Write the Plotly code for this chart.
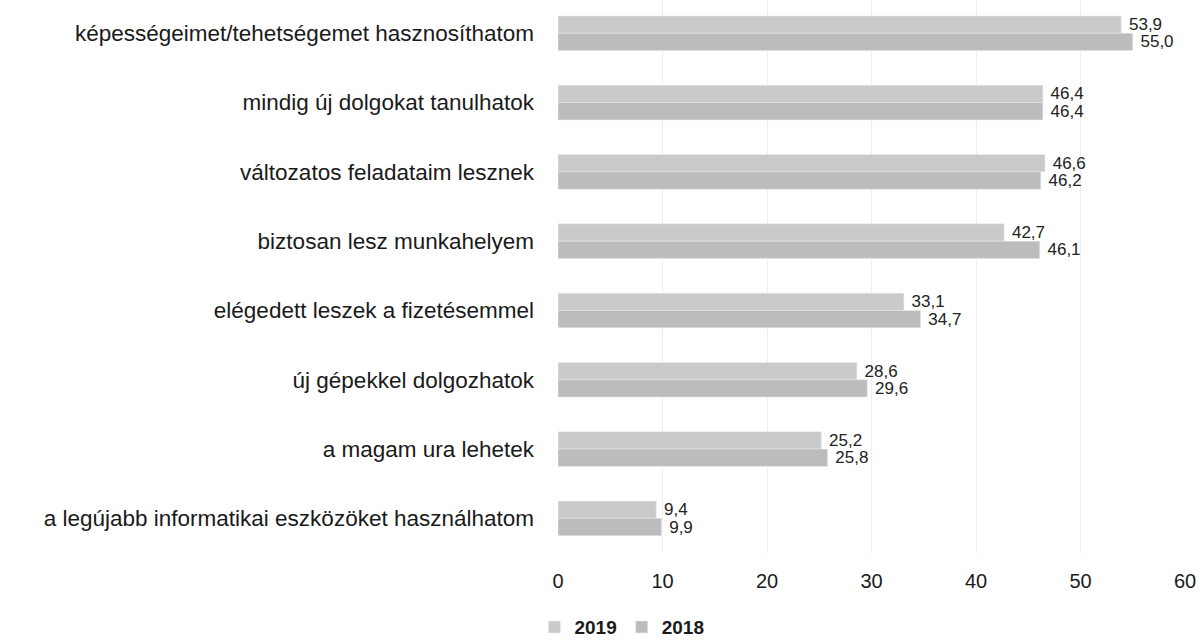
import plotly.graph_objects as go

categories = [
    "képességeimet/tehetségemet hasznosíthatom",
    "mindig új dolgokat tanulhatok",
    "változatos feladataim lesznek",
    "biztosan lesz munkahelyem",
    "elégedett leszek a fizetésemmel",
    "új gépekkel dolgozhatok",
    "a magam ura lehetek",
    "a legújabb informatikai eszközöket használhatom",
]
values_2019 = [53.9, 46.4, 46.6, 42.7, 33.1, 28.6, 25.2, 9.4]
values_2018 = [55.0, 46.4, 46.2, 46.1, 34.7, 29.6, 25.8, 9.9]
x_ticks = [0, 10, 20, 30, 40, 50, 60]

FONT = "Liberation Sans, Arial, sans-serif"


def bar_trace(name, values, color):
    return go.Bar(
        name="<b>%s</b>" % name,
        y=categories,
        x=values,
        orientation="h",
        marker=dict(color=color),
        text=values,
        texttemplate=" %{x:.1f}",
        textposition="outside",
        textfont=dict(size=17, color="#222222", family=FONT),
        constraintext="none",
        cliponaxis=False,
    )


fig = go.Figure()
fig.add_trace(bar_trace("2019", values_2019, "#cacaca"))
fig.add_trace(bar_trace("2018", values_2018, "#bcbcbc"))

fig.update_layout(
    width=1200,
    height=641,
    barmode="group",
    bargap=0.5,
    bargroupgap=0,
    separators=", ",
    plot_bgcolor="white",
    paper_bgcolor="white",
    margin=dict(l=558, r=15, t=0, b=88, autoexpand=False),
    font=dict(family=FONT, size=22, color="#1a1a1a"),
    showlegend=True,
    legend=dict(
        orientation="h",
        x=0.102,
        xanchor="center",
        y=-0.134,
        yanchor="middle",
        font=dict(size=19, color="#1a1a1a"),
        itemwidth=30,
        traceorder="normal",
    ),
    xaxis=dict(
        range=[0, 60],
        tickvals=x_ticks,
        showgrid=True,
        gridcolor="#eeeeee",
        gridwidth=1,
        zeroline=False,
        showline=False,
        automargin=False,
        ticklabelstandoff=14,
        tickfont=dict(size=20),
    ),
    yaxis=dict(
        range=[7.5, -0.48],
        showgrid=False,
        showline=False,
        automargin=False,
        ticklabelstandoff=23,
        tickfont=dict(size=22.5),
    ),
)

# drop the default page margin so the figure fills the window exactly
fig.write_html(
    "out.html",
    config={"displayModeBar": False},
    post_script="document.body.style.margin='0'; document.body.style.overflow='hidden';",
)
